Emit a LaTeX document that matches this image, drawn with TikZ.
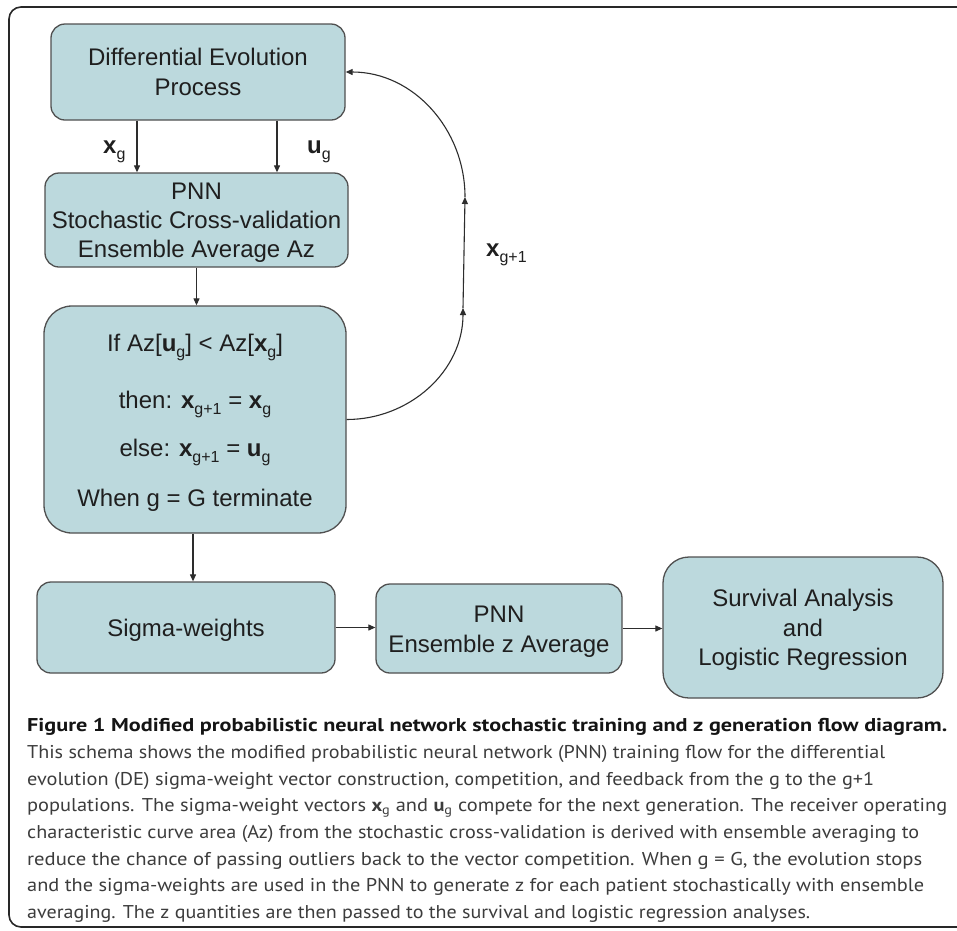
\documentclass[tikz,border=0pt]{standalone}
\usepackage{fontspec}
\setmainfont{Liberation Sans}
\newfontfamily\capfont{PT Sans}
\usepackage{graphicx}
\usetikzlibrary{arrows.meta}
\definecolor{boxfill}{RGB}{188,217,221}
\definecolor{boxline}{RGB}{80,80,80}
\definecolor{linecol}{RGB}{45,45,45}
\definecolor{captext}{RGB}{60,60,60}
\definecolor{frameline}{RGB}{40,40,40}
\newcommand\vbx[2]{\textbf{#1}\raisebox{-6pt}{\fontsize{16}{16}\selectfont #2}}
\newcommand\capvb[2]{\textbf{#1}\textsubscript{#2}}
\newcommand\fitw[2]{\resizebox{#1pt}{\height}{#2}}
\begin{document}
\begin{tikzpicture}[x=1pt,y=-1pt,
  box/.style={draw=boxline, fill=boxfill, line width=1.3pt, rounded corners=14pt, inner sep=0pt},
  txt/.style={anchor=base, inner sep=0pt, font=\fontsize{24}{28}\selectfont, text=black!88},
  lbl/.style={anchor=base west, inner sep=0pt, font=\fontsize{24}{28}\selectfont, text=black!88},
  arr/.style={draw=linecol, line width=1.1pt, -{Triangle[length=7pt,width=6pt]}},
  capl/.style={anchor=base west, inner sep=0pt, font=\capfont\fontsize{18.5}{21}\selectfont, text=captext},
]
\useasboundingbox (0,0) rectangle (957,930);
\clip (0,0) rectangle (957,930);
\fill[white] (0,0) rectangle (957,930);
% outer frame
\draw[draw=frameline, line width=1.6pt, rounded corners=12pt] (9,7) rectangle (1000,927);

% boxes
\node[box, minimum width=294pt, minimum height=96pt] (b1) at (198,72) {};
\node[box, minimum width=303pt, minimum height=94pt] (b2) at (196.5,220) {};
\node[box, minimum width=302pt, minimum height=227pt, rounded corners=28pt] (b3) at (195,419.5) {};
\node[box, minimum width=298pt, minimum height=91pt] (b4) at (186,627.5) {};
\node[box, minimum width=246pt, minimum height=89pt] (b5) at (499,628.5) {};
\node[box, minimum width=280pt, minimum height=141pt, rounded corners=26pt] (b6) at (803,627.5) {};

% box texts
\node[txt] (t1a) at (198,65.5) {Differential Evolution};
\node[txt] (t1b) at (198,95) {Process};
\node[txt] (t2a) at (196.5,199.3) {PNN};
\node[txt] (t2b) at (196.5,228.3) {Stochastic Cross-validation};
\node[txt] (t2c) at (196.5,257.3) {Ensemble Average Az};
\node[txt] (t3a) at (195,351.7) {If Az[\vbx{u}{g}] < Az[\vbx{x}{g}]};
\node[txt] (t3b) at (195,408.3) {then: \vbx{x}{g+1} = \vbx{x}{g}};
\node[txt] (t3c) at (195,456.7) {else: \vbx{x}{g+1} = \vbx{u}{g}};
\node[txt] (t3d) at (195,506.7) {When g = G terminate};
\node[txt] (t4a) at (186,636.5) {Sigma-weights};
\node[txt] (t5a) at (499,622.5) {PNN};
\node[txt] (t5b) at (499,652.5) {Ensemble z Average};
\node[txt] (t6a) at (803,606.7) {Survival Analysis};
\node[txt] (t6b) at (803,636) {and};
\node[txt] (t6c) at (803,665) {Logistic Regression};

% labels
\node[lbl] (lxg) at (103,153) {\vbx{x}{g}};
\node[lbl] (lug) at (307,153) {\vbx{u}{g}};
\node[lbl] (lxg1) at (486,256) {\vbx{x}{g+1}};

% connectors
\coordinate (cx) at (137,0);
\coordinate (cu) at (277,0);
\coordinate (cs) at (193,0);
\draw[arr] (b1.south -| cx) -- (b2.north -| cx);
\draw[arr] (b1.south -| cu) -- (b2.north -| cu);
\draw[arr] (b2.south) -- (b2.south |- b3.north);
\draw[arr] (b3.south -| cs) -- (b4.north -| cs);
\draw[arr] (b4.east) -- (b4.east -| b5.west);
\draw[arr] (b5.east) -- (b5.east -| b6.west);
\coordinate (f1) at (463,308);
\coordinate (f2) at (465,197);
\draw[arr] (b3.east) to[out=0,in=-90] (f1);
\draw[arr] (f1) -- (f2);
\draw[arr] (f2) to[out=90,in=0] (b1.east);

% caption
\node[capl, text=black!92] (c0) at (27,731.7) {\fitw{920}{\bfseries Figure 1 Modified probabilistic neural network stochastic training and z generation flow diagram.}};
\node[capl] (c1) at (27,758.3) {\fitw{858}{This schema shows the modified probabilistic neural network (PNN) training flow for the differential}};
\node[capl] (c2) at (27,785) {\fitw{847}{evolution (DE) sigma-weight vector construction, competition, and feedback from the g to the g+1}};
\node[capl] (c3) at (27,811.7) {\fitw{920}{populations. The sigma-weight vectors \capvb{x}{g} and \capvb{u}{g} compete for the next generation. The receiver operating}};
\node[capl] (c4) at (27,838.3) {\fitw{892}{characteristic curve area (Az) from the stochastic cross-validation is derived with ensemble averaging to}};
\node[capl] (c5) at (27,865) {\fitw{895}{reduce the chance of passing outliers back to the vector competition. When g = G, the evolution stops}};
\node[capl] (c6) at (27,891.7) {\fitw{897}{and the sigma-weights are used in the PNN to generate z for each patient stochastically with ensemble}};
\node[capl] (c7) at (27,918.3) {\fitw{783}{averaging. The z quantities are then passed to the survival and logistic regression analyses.}};
\end{tikzpicture}
\end{document}
